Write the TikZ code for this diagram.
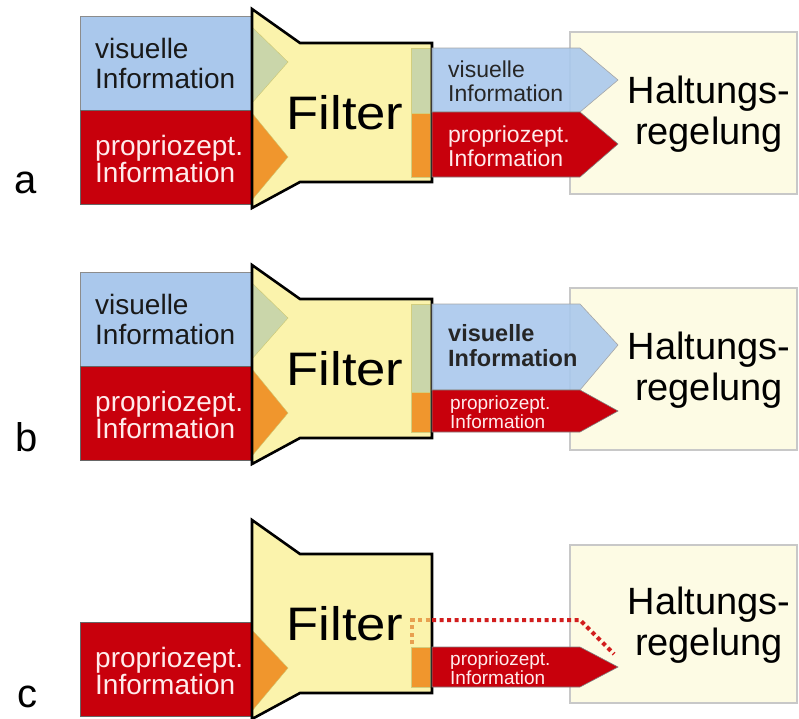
\documentclass[tikz,border=0pt]{standalone}
\usepackage{fontspec}
\setmainfont{Liberation Sans}
\usetikzlibrary{positioning}
\definecolor{infoblue}{RGB}{170,200,236}
\definecolor{infored}{RGB}{200,0,12}
\definecolor{filteryellow}{RGB}{251,243,172}
\definecolor{triorange}{RGB}{240,150,45}
\definecolor{trigreen}{RGB}{202,214,170}
\definecolor{boxcream}{RGB}{253,251,228}
\definecolor{boxgray}{RGB}{200,200,200}
\definecolor{dotorange}{RGB}{232,160,80}
\definecolor{dotred}{RGB}{210,30,30}
\newcommand{\funnelpath}% outline of the filter
{(252,9) -- (300,43) -- (432,43) -- (432,182) -- (300,182) -- (252,208) -- cycle
}
\newcommand{\fsz}[2]{\fontsize{#1}{#2}\selectfont}

\begin{document}
\begin{tikzpicture}[x=1pt,y=-1pt]
\tikzstyle{visbox}=[fill=infoblue,draw=black!45,line width=.8pt]
\tikzstyle{probox}=[fill=infored,draw=black!60,line width=.8pt]
\tikzstyle{filterbody}=[fill=filteryellow]
\tikzstyle{filterline}=[draw=black,line width=2.6pt,line join=miter]
\tikzstyle{haltbox}=[fill=boxcream,draw=boxgray,line width=1.4pt]
\tikzstyle{visarrow}=[fill=infoblue,fill opacity=.9,draw=black!35,line width=.6pt]
\tikzstyle{proarrow}=[fill=infored,draw=black!50,line width=.6pt]
\tikzstyle{greenbar}=[fill=trigreen,draw=olive!40,line width=.6pt]
\tikzstyle{orangebar}=[fill=triorange,draw=olive!40,line width=.6pt]
\tikzstyle{lefttext}=[anchor=west,align=left,inner sep=0pt,text=black!90,font=\fsz{28}{30}]
\tikzstyle{arrowtext}=[anchor=west,align=left,inner sep=0pt,font=\fsz{23}{24}]
\tikzstyle{smalltext}=[anchor=west,align=left,inner sep=0pt,text=white!92!red,font=\fsz{19}{19}]
\tikzstyle{halttext}=[align=center,inner sep=0pt,font=\fsz{38}{41}]
\tikzstyle{filtertext}=[inner sep=0pt,font=\fsz{47}{47},xscale=1.12]
\tikzstyle{panellabel}=[inner sep=0pt,font=\fsz{40}{40}]
\tikzstyle{dotline}=[line width=4pt,line cap=butt,dash pattern=on 4pt off 3.5pt]
\useasboundingbox (0,0) rectangle (799,718);

% ---------- panel a ----------
\draw[haltbox] (570,32) rectangle (797,194); % right box a
\node[halttext] (Ha) at (709,114) {Haltungs-\\regelung};
\draw[visbox] (80,16) rectangle (252,110); % visual input a
\node[lefttext] (Va) at (95,63) {visuelle\\Information};
\draw[probox] (80,110) rectangle (252,204); % proprio input a
\node[lefttext,text=white!92!red,font=\fsz{28}{25}] (Pa) at (95,159) {propriozept.\\Information};
\fill[filterbody] \funnelpath; % filter a
\filldraw[trigreen,draw=olive!45] (252,27) -- (288,62) -- (252,103) -- cycle;
\filldraw[triorange,draw=olive!45] (252,113) -- (288,157) -- (252,200) -- cycle;
\draw[greenbar] (411,48) rectangle (430,113);
\draw[orangebar] (411,113) rectangle (430,177);
\draw[filterline] \funnelpath;
\node[filtertext] (Fa) at (345,113) {Filter};
\draw[visarrow] (432,48) -- (580,48) -- (618,80) -- (580,112) -- (432,112) -- cycle; % out a
\node[arrowtext,text=black!85] (va) at (448,81) {visuelle\\Information};
\draw[proarrow] (432,112) -- (580,112) -- (618,144) -- (580,177) -- (432,177) -- cycle;
\node[arrowtext,text=white!92!red] (pa) at (448,146) {propriozept.\\Information};
\node[panellabel] (la) at (26,183) {a};

% ---------- panel b ----------
\begin{scope}[yshift=-256pt]
\draw[haltbox] (570,32) rectangle (797,194); % right box b
\node[halttext] (Hb) at (709,114) {Haltungs-\\regelung};
\draw[visbox] (80,16) rectangle (252,110); % visual input b
\node[lefttext] (Vb) at (95,63) {visuelle\\Information};
\draw[probox] (80,110) rectangle (252,204); % proprio input b
\node[lefttext,text=white!92!red,font=\fsz{28}{25}] (Pb) at (95,159) {propriozept.\\Information};
\fill[filterbody] \funnelpath; % filter b
\filldraw[trigreen,draw=olive!45] (252,27) -- (288,62) -- (252,103) -- cycle;
\filldraw[triorange,draw=olive!45] (252,113) -- (288,157) -- (252,200) -- cycle;
\draw[greenbar] (411,48) rectangle (430,136);
\draw[orangebar] (411,136) rectangle (430,176);
\draw[filterline] \funnelpath;
\node[filtertext] (Fb) at (345,113) {Filter};
\draw[visarrow] (432,48) -- (580,48) -- (618,89) -- (580,134) -- (432,134) -- cycle; % out b
\node[arrowtext,text=black!85,font=\bfseries\fsz{23.5}{25}] (vb) at (448,90) {visuelle\\Information};
\draw[proarrow] (432,134) -- (580,134) -- (618,155) -- (580,176) -- (432,176) -- cycle;
\node[smalltext] (pb) at (450,156) {propriozept.\\Information};
\node[panellabel] (lb) at (27,181) {b};
\end{scope}

% ---------- panel c ----------
\begin{scope}[yshift=-511pt]
\draw[haltbox] (570,34) rectangle (797,192); % right box c
\node[halttext] (Hc) at (709,114) {Haltungs-\\regelung};
\draw[probox] (80,111) rectangle (252,205); % proprio input c
\node[lefttext,text=white!92!red,font=\fsz{28}{25}] (Pc) at (95,160) {propriozept.\\Information};
\fill[filterbody] \funnelpath; % filter c
\filldraw[triorange,draw=olive!45] (252,119) -- (288,157) -- (252,200) -- cycle;
\draw[orangebar] (411,136) rectangle (430,176);
\draw[filterline] \funnelpath;
\node[filtertext] (Fc) at (345,113) {Filter};
\draw[proarrow] (432,136) -- (580,136) -- (618,156) -- (580,176) -- (432,176) -- cycle; % out c
\node[smalltext] (pc) at (450,157) {propriozept.\\Information};
% blocked visual path
\coordinate (d0) at (412,133);
\coordinate (d1) at (412,109);
\coordinate (d2) at (432,109);
\coordinate (d3) at (580,109);
\coordinate (d4) at (614,143);
\draw[dotline,dotorange] (d0) -- (d1) -- (d2);
\draw[dotline,dotred] (d2) -- (d3) -- (d4);
\node[panellabel] (lc) at (27,186) {c};
\end{scope}
\end{tikzpicture}
\end{document}
